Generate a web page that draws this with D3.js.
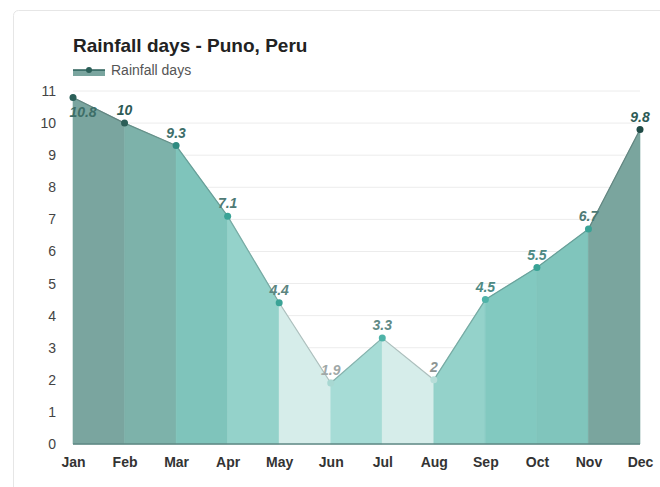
<!DOCTYPE html>
<html>
  <head>
    <script src="https://d3js.org/d3.v7.min.js"></script>
    <style>
      body { margin: 0; background: #ffffff; font-family: "Liberation Sans", Arial, sans-serif; }
    </style>
  </head>
  <body>
    <svg id="chart" width="660" height="487"></svg>
    <script>
      var months = ["Jan", "Feb", "Mar", "Apr", "May", "Jun", "Jul", "Aug", "Sep", "Oct", "Nov", "Dec"];
      var rainDays = [10.8, 10, 9.3, 7.1, 4.4, 1.9, 3.3, 2, 4.5, 5.5, 6.7, 9.8];
      var yTicks = [0, 1, 2, 3, 4, 5, 6, 7, 8, 9, 10, 11];

      // fill of the band that starts at each month
      var bandColors = ["#7aa59f", "#7db2aa", "#7fc4bb", "#94d2ca", "#d6edea", "#a6dcd6",
                        "#d6edea", "#94d2ca", "#82c9c0", "#80c5bc", "#7aa59e"];
      var pointColors = ["#2b5f58", "#2b5f58", "#2f8a80", "#3aa396", "#3aa396", "#a8d8d2",
                         "#4fb3a8", "#b8ded9", "#4fb3a8", "#3aa396", "#3aa396", "#1f4a45"];
      var labelColors = ["#3d6e68", "#2d5a55", "#3c6e69", "#4e7a75", "#5c8580", "#a0a8a7",
                         "#5f8a86", "#8e9594", "#4e8a84", "#4e8a84", "#4e7a75", "#2d5a55"];

      var svg = d3.select("#chart");

      // card
      svg.append("rect")
        .attr("x", 13.5).attr("y", 10.5)
        .attr("width", 660).attr("height", 500)
        .attr("rx", 5)
        .style("fill", "#ffffff")
        .style("stroke", "#e6e6e6");

      var x = d3.scalePoint().domain(months).range([73, 640]);
      var y = d3.scaleLinear().domain([0, 11]).range([444, 91]);

      // gridlines
      svg.append("g")
        .selectAll("line")
        .data(yTicks)
        .enter()
        .append("line")
        .attr("x1", 73).attr("x2", 640)
        .attr("y1", (d) => y(d)).attr("y2", (d) => y(d))
        .style("stroke", "#ececec")
        .style("stroke-width", 1);

      // bands
      var bands = d3.range(months.length - 1);
      svg.append("g")
        .selectAll("path")
        .data(bands)
        .enter()
        .append("path")
        .attr("d", (i) => {
          var x0 = x(months[i]), x1 = x(months[i + 1]);
          return "M" + x0 + "," + y(0) + "L" + x0 + "," + y(rainDays[i]) +
            "L" + x1 + "," + y(rainDays[i + 1]) + "L" + x1 + "," + y(0) + "Z";
        })
        .style("fill", (i) => bandColors[i])
        .style("stroke", (i) => bandColors[i])
        .style("stroke-width", 0.6);

      // line
      svg.append("g")
        .selectAll("line")
        .data(bands)
        .enter()
        .append("line")
        .attr("x1", (i) => x(months[i])).attr("y1", (i) => y(rainDays[i]))
        .attr("x2", (i) => x(months[i + 1])).attr("y2", (i) => y(rainDays[i + 1]))
        .style("stroke", (i) => d3.color(bandColors[i]).darker(0.6))
        .style("stroke-width", 1.2);

      // baseline
      svg.append("line")
        .attr("x1", 73).attr("x2", 640)
        .attr("y1", y(0)).attr("y2", y(0))
        .style("stroke", "#5f8884")
        .style("stroke-width", 1.5);

      // y axis
      var yAxis = d3.axisLeft(y).tickValues(yTicks).tickSize(0).tickPadding(0);
      var gy = svg.append("g")
        .attr("transform", "translate(56,0)")
        .call(yAxis);
      gy.select(".domain").remove();
      gy.selectAll("text")
        .style("font-family", "Liberation Sans, Arial, sans-serif")
        .style("font-size", "14px")
        .style("fill", "#444");

      // x axis
      var xAxis = d3.axisBottom(x).tickSize(0).tickPadding(0);
      var gx = svg.append("g")
        .attr("transform", "translate(0,457)")
        .call(xAxis);
      gx.select(".domain").remove();
      gx.selectAll("text")
        .style("font-family", "Liberation Sans, Arial, sans-serif")
        .style("font-size", "14px")
        .style("font-weight", "bold")
        .style("fill", "#333");

      // points
      svg.append("g")
        .selectAll("circle")
        .data(rainDays)
        .enter()
        .append("circle")
        .attr("cx", (d, i) => x(months[i]))
        .attr("cy", (d) => y(d))
        .attr("r", 3.5)
        .style("fill", (d, i) => pointColors[i]);

      // value labels
      svg.append("g")
        .selectAll("text")
        .data(rainDays)
        .enter()
        .append("text")
        .attr("x", (d, i) => x(months[i]) + (i === 0 ? 10 : 0))
        .attr("y", (d, i) => y(d) + (i === 0 ? 20 : -8))
        .attr("text-anchor", "middle")
        .style("font-family", "Liberation Sans, Arial, sans-serif")
        .style("font-size", "14px")
        .style("font-weight", "bold")
        .style("font-style", "italic")
        .style("fill", (d, i) => labelColors[i])
        .text((d) => d);

      // title
      svg.append("text")
        .attr("x", 73).attr("y", 52)
        .style("font-size", "19px")
        .style("font-weight", "bold")
        .style("fill", "#222")
        .text("Rainfall days - Puno, Peru");

      // legend
      svg.append("rect")
        .attr("x", 73).attr("y", 70)
        .attr("width", 32).attr("height", 6)
        .style("fill", "#7aa59f");
      svg.append("line")
        .attr("x1", 73).attr("x2", 105)
        .attr("y1", 70).attr("y2", 70)
        .style("stroke", "#2b5f58")
        .style("stroke-width", 1.5);
      svg.append("circle")
        .attr("cx", 89).attr("cy", 70).attr("r", 3)
        .style("fill", "#2b5f58");
      svg.append("text")
        .attr("x", 111).attr("y", 75)
        .style("font-size", "14px")
        .style("fill", "#555")
        .text("Rainfall days");
    </script>
  </body>
</html>
